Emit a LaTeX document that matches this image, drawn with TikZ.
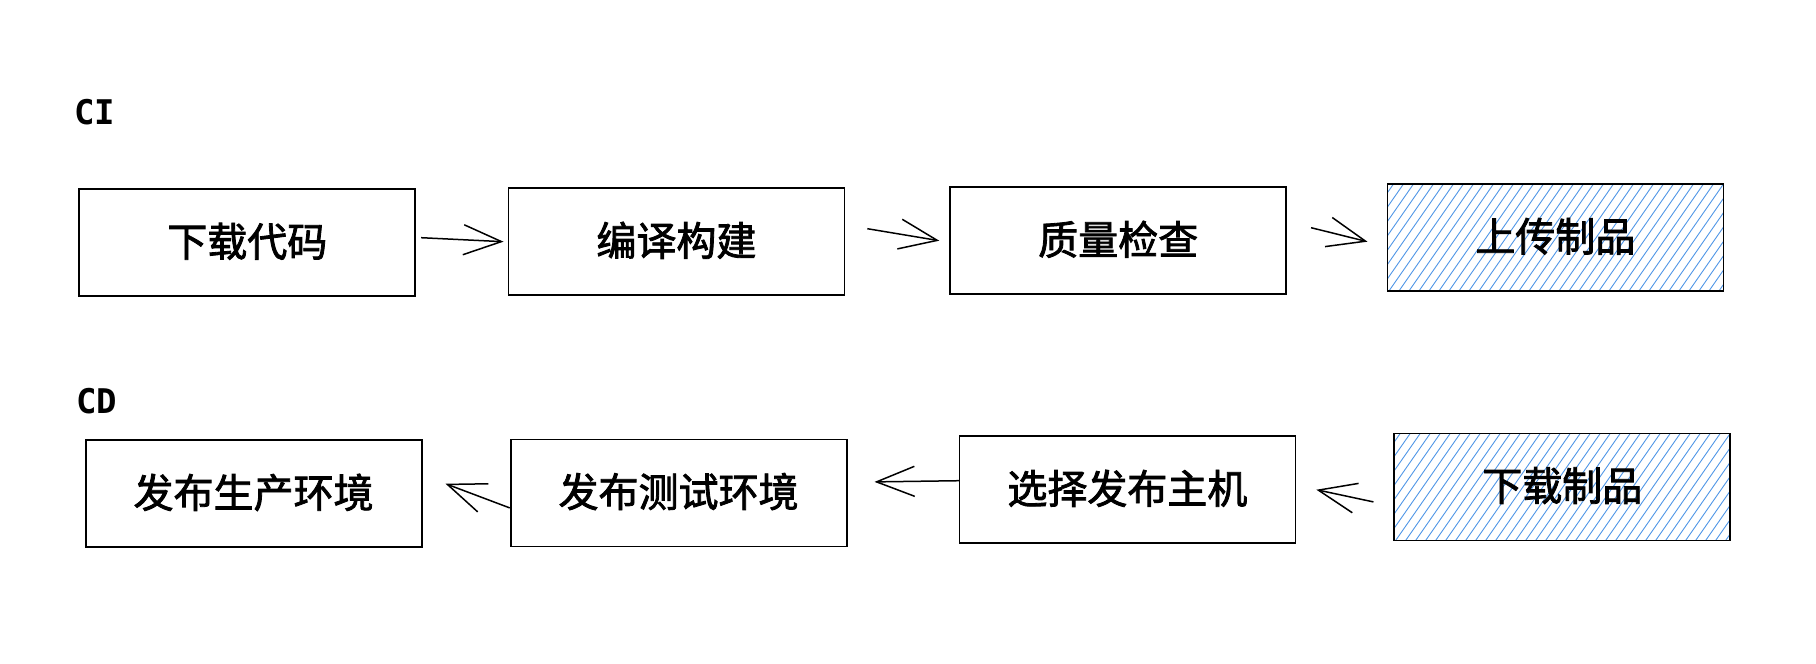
\documentclass[tikz,border=0pt]{standalone}
\usepackage{fontspec}
\newfontfamily\cjk[FakeBold=2]{Noto Sans CJK SC}
\newfontfamily\hand{DejaVu Sans Mono}
\usetikzlibrary{calc,arrows.meta}
\definecolor{hatchcol}{RGB}{80,150,230}
\begin{document}
\begin{tikzpicture}[x=1pt,y=-1pt,
  stepbox/.style={draw=black,line width=1.8pt,minimum width=336pt,minimum height=107pt,
    inner sep=0pt,font=\cjk\fontsize{40}{44}\selectfont},
  hatchbox/.style={stepbox,path picture={
    \foreach \i in {-12,...,36}{
      \draw[hatchcol,line width=0.9pt] ($(path picture bounding box.south west)+(\i*10,2)$) -- ++(85,-122);
    }}},
  lbl/.style={font=\hand\bfseries\fontsize{34}{36}\selectfont,inner sep=0pt},
  conn/.style={line width=1.5pt,-{Straight Barb[length=38pt,width=30pt,line width=1.5pt]}}]
\useasboundingbox (0,0) rectangle (1816,664);
\node[lbl] (ci) at (95,112) {CI};
\node[lbl] (cd) at (97,401) {CD};
\node[stepbox] (b1) at (247.3,242.7) {\raisebox{6pt}{下载代码}};
\node[stepbox] (b2) at (676.4,241.7) {\raisebox{6pt}{编译构建}};
\node[stepbox] (b3) at (1118.2,240.7) {\raisebox{6pt}{质量检查}};
\node[hatchbox] (b4) at (1555.4,237.7) {\raisebox{6pt}{上传制品}};
\node[stepbox] (ba) at (253.6,493.7) {\raisebox{6pt}{发布生产环境}};
\node[stepbox] (bb) at (678.6,492.9) {\raisebox{6pt}{发布测试环境}};
\node[stepbox] (bc) at (1127.4,489.7) {\raisebox{6pt}{选择发布主机}};
\node[hatchbox] (bd) at (1562.3,486.9) {\raisebox{6pt}{下载制品}};
\draw[conn] ($(b1.east)+(5,-5)$) -- ($(b2.west)+(-4,0)$);
\draw[conn] ($(b2.east)+(22,-13)$) -- ($(b3.west)+(-10,0)$);
\draw[conn] ($(b3.east)+(24,-13)$) -- ($(b4.west)+(-19,4)$);
\draw[conn] ($(bd.west)+(-20,15)$) -- ($(bc.east)+(20,0)$);
\draw[conn] ($(bc.west)+(1,-9)$) -- ($(bb.east)+(27,-11)$);
\draw[conn] ($(bb.west)+(0,15)$) -- ($(ba.east)+(23,-10)$);
\end{tikzpicture}
\end{document}
